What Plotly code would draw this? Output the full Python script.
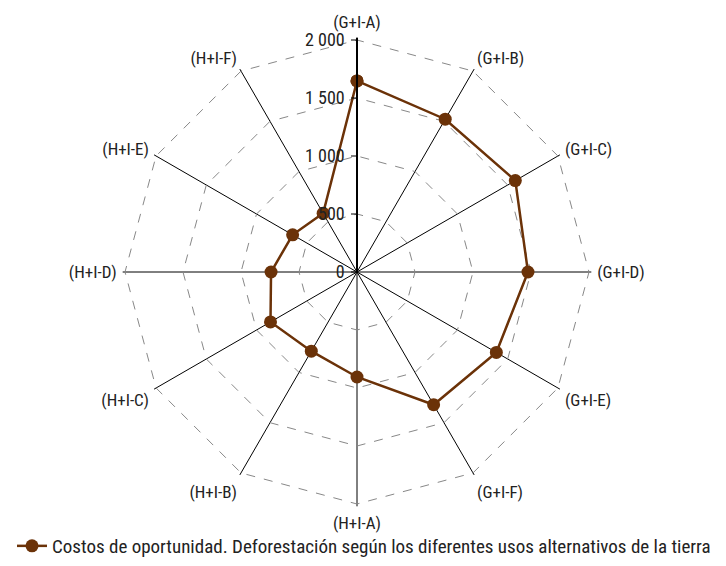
import plotly.graph_objects as go

categories = ["(G+I-A)", "(G+I-B)", "(G+I-C)", "(G+I-D)", "(G+I-E)", "(G+I-F)",
              "(H+I-A)", "(H+I-B)", "(H+I-C)", "(H+I-D)", "(H+I-E)", "(H+I-F)"]
values = [1647, 1521, 1576, 1474, 1387, 1321, 905, 788, 861, 741, 641, 584]
radial_ticks = [0, 500, 1000, 1500, 2000]
radial_ticktext = ["0", "500", "1 000", "1 500", "2 000"]
series_name = "Costos de oportunidad. Deforestación según los diferentes usos alternativos de la tierra"

FONT = "Liberation Sans Narrow, Roboto Condensed, Roboto, sans-serif"
BROWN = "#6b3208"

RMAX = 2020
R_PX = 232 * RMAX / 2000
CX, CY = 357, 272

fig = go.Figure()
fig.add_trace(go.Scatterpolar(
    r=values + values[:1], theta=categories + categories[:1],
    mode="lines+markers", name=series_name,
    line=dict(color=BROWN, width=2.5),
    marker=dict(color=BROWN, size=13),
))

fig.update_layout(
    width=726, height=566,
    margin=dict(l=0, r=0, t=0, b=0),
    paper_bgcolor="white",
    font=dict(family=FONT, size=16, color="#222"),
    showlegend=True,
    legend=dict(orientation="h", x=12 / 726, xanchor="left", y=1 - 546 / 566, yanchor="middle",
                bgcolor="rgba(0,0,0,0)",
                font=dict(size=19, color="#222", family=FONT), itemwidth=30),
    polar=dict(
        domain=dict(x=[(CX - R_PX) / 726, (CX + R_PX) / 726],
                    y=[1 - (CY + R_PX) / 566, 1 - (CY - R_PX) / 566]),
        bgcolor="white",
        gridshape="linear",
        radialaxis=dict(range=[0, RMAX], tickvals=radial_ticks, ticktext=radial_ticktext,
                        angle=90, tickangle=90, side="counterclockwise",
                        showline=True, linecolor="black", linewidth=2,
                        gridcolor="#888", griddash="dash", gridwidth=1,
                        ticks="outside", ticklen=5, tickcolor="black",
                        tickfont=dict(size=18, color="#222", family=FONT)),
        angularaxis=dict(direction="clockwise", rotation=90, showline=False,
                         gridcolor="black", gridwidth=1.2,
                         ticks="outside", ticklen=2, tickcolor="rgba(0,0,0,0)",
                         tickfont=dict(size=17, color="#222", family=FONT)),
    ),
)
fig.write_html("out.html", config={"displayModeBar": False},
               post_script="document.body.style.margin='0';")
